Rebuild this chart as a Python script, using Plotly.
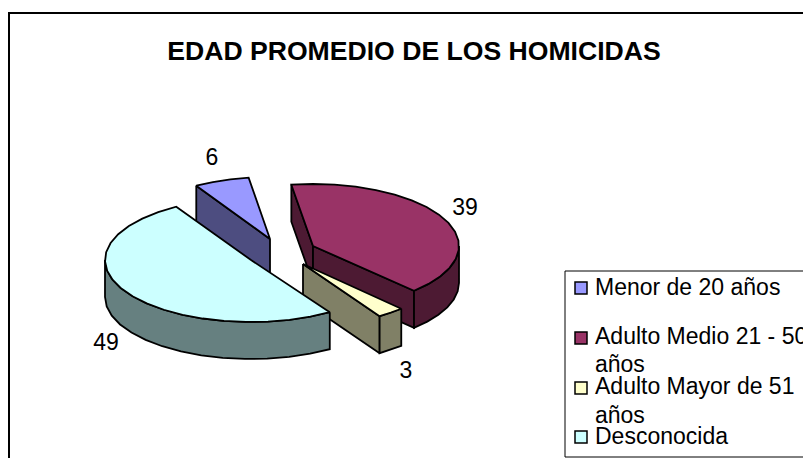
import math
import plotly.graph_objects as go

categories = ["Menor de 20 años", "Adulto Medio 21 - 50 años", "Adulto Mayor de 51 años", "Desconocida"]
legend_lines = ["Menor de 20 años", "Adulto Medio 21 - 50", "años", "Adulto Mayor de 51", "años", "Desconocida"]
values = [6, 39, 3, 49]
title = "EDAD PROMEDIO DE LOS HOMICIDAS"

top_colors = ["#9999FF", "#993366", "#FFFFCC", "#CCFFFF"]
side_colors = ["#4D4D80", "#4D1A33", "#808066", "#668080"]

# projection of the exploded pie, in canvas pixels
W, H = 803, 458
centres = [(270, 239), (313, 246), (303, 264), (251, 260)]
RX = [144, 146, 142, 146]
RY = 62
DEPTH = 37
START = -30.8
label_pos = [(212, 159), (465, 209), (406, 372), (106, 344)]
legend_y = [288, 338, 388, 437]
legend_text_y = [287, 336, 364, 386, 415, 436]

fig = go.Figure()


def arc(c, rx, t0, t1, dz=0.0):
    n = max(2, int(abs(t1 - t0) / 9) + 1)
    out = []
    for i in range(n + 1):
        t = math.radians(t0 + (t1 - t0) * i / n)
        out.append((c[0] + rx * math.sin(t), c[1] - RY * math.cos(t) + dz))
    return out


def poly(points, fill):
    xs = [p[0] for p in points] + [points[0][0]]
    ys = [p[1] for p in points] + [points[0][1]]
    fig.add_trace(go.Scatter(x=xs, y=ys, mode="lines", fill="toself", fillcolor=fill,
                             line=dict(color="black", width=1.8), hoverinfo="skip", showlegend=False))


total = sum(values)
angle = START
for i, v in enumerate(values):
    t0, t1 = angle, angle + v / total * 360
    angle = t1
    c, rx = centres[i], RX[i]
    # radial walls facing the viewer
    for t, inner in ((t0, t0 + 8), (t1, t1 - 8)):
        p = arc(c, rx, t, t, 0)[0]
        q = arc(c, rx, inner, inner, 0)[0]
        dx, dy = p[0] - c[0], p[1] - c[1]
        nx, ny = dy, -dx
        if nx * (q[0] - c[0]) + ny * (q[1] - c[1]) > 0:
            nx, ny = -nx, -ny
        if ny > 0:
            poly([c, p, (p[0], p[1] + DEPTH), (c[0], c[1] + DEPTH)], side_colors[i])
    # outer wall, front half of the ellipse only
    a0, a1 = max(t0, 90), min(t1, 270)
    if a1 > a0:
        poly(arc(c, rx, a0, a1) + arc(c, rx, a1, a0, DEPTH), side_colors[i])
    # top face
    poly([c] + arc(c, rx, t0, t1), top_colors[i])

fig.add_trace(go.Scatter(x=[p[0] for p in label_pos], y=[p[1] for p in label_pos], mode="text",
                         text=[str(v) for v in values], textposition="middle center",
                         textfont=dict(family="Liberation Sans", size=23, color="black"),
                         hoverinfo="skip", showlegend=False))
fig.add_trace(go.Scatter(x=[414], y=[53], mode="text", text=["<b>" + title + "</b>"],
                         textposition="middle center",
                         textfont=dict(family="Liberation Sans", size=26.6, color="black"),
                         hoverinfo="skip", showlegend=False))
fig.add_trace(go.Scatter(x=[581] * 4, y=legend_y, mode="markers",
                         marker=dict(symbol="square", size=12, color=top_colors,
                                     line=dict(color="black", width=1.5)),
                         hoverinfo="skip", showlegend=False))
for line, y in zip(legend_lines, legend_text_y):
    fig.add_annotation(x=595, y=y, text=line, showarrow=False, xanchor="left", yanchor="middle",
                       align="left", xshift=-2, font=dict(family="Liberation Sans", size=23, color="black"))

fig.update_layout(
    width=W, height=H, margin=dict(l=0, r=0, t=0, b=0), autosize=False,
    paper_bgcolor="white", plot_bgcolor="white",
    xaxis=dict(range=[0, W], visible=False, fixedrange=True),
    yaxis=dict(range=[H, 0], visible=False, fixedrange=True),
    shapes=[
        dict(type="rect", xref="x", yref="y", x0=9, y0=13, x1=W + 20, y1=H + 20,
             line=dict(color="black", width=2)),
        dict(type="rect", xref="x", yref="y", x0=565, y0=271, x1=W + 20, y1=457,
             line=dict(color="black", width=1)),
    ],
)
fig.write_html("out.html", config=dict(displayModeBar=False),
               post_script="document.body.style.margin='0';document.body.style.overflow='hidden';")
